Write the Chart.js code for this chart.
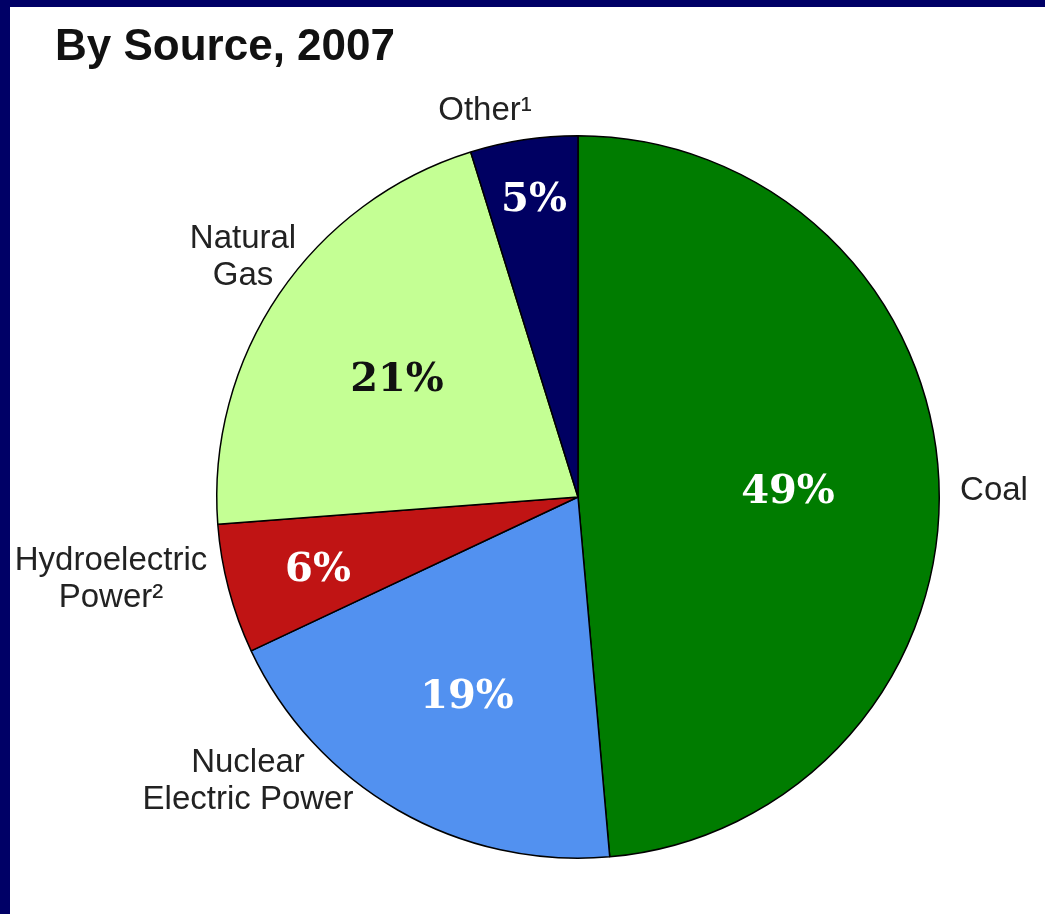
<!DOCTYPE html>
<html>
<head>
<meta charset="utf-8">
<script src="https://cdn.jsdelivr.net/npm/chart.js@4"></script>
<style>
  html, body { margin: 0; padding: 0; background: #000066; width: 1045px; height: 914px; overflow: hidden; }
  #panel { position: absolute; left: 10px; top: 7px; width: 1035px; height: 907px; background: #fff; }
  #chart { display: block; }
</style>
</head>
<body>
<div id="panel"><canvas id="chart" width="1035" height="907"></canvas></div>
<script>
// data (shares of the pie, starting at 12 o'clock, clockwise)
const categories = ['Coal', 'Nuclear Electric Power', 'Hydroelectric Power²', 'Natural Gas', 'Other¹']
const shares = [48.6, 19.4, 5.8, 21.4, 4.8]
const pctLabels = ['49%', '19%', '6%', '21%', '5%']
const sliceColors = ['#007c00', '#5291f0', '#c01414', '#c4ff94', '#000062']
const pctColors = ['#ffffff', '#ffffff', '#ffffff', '#111111', '#ffffff']

// outside labels: lines and where they sit (canvas coords)
const outerLabels = [
    { lines: ['Coal'], x: 984, y: 484 },
    { lines: ['Nuclear', 'Electric Power'], x: 238, y: 756 },
    { lines: ['Hydroelectric', 'Power²'], x: 101, y: 554 },
    { lines: ['Natural', 'Gas'], x: 233, y: 232 },
    { lines: ['Other¹'], x: 475, y: 104 },
]
const pctPos = [
    [778, 486], [457, 691], [308, 564], [387, 374], [524, 194]
]

// draws title, percentages and outside names
const textPlugin = {
    id: 'textPlugin',
    afterDraw(chart) {
        const ctx = chart.ctx
        ctx.save()
        ctx.fillStyle = '#111'
        ctx.font = 'bold 44px "Liberation Sans", Arial, sans-serif'
        ctx.textAlign = 'left'
        ctx.textBaseline = 'alphabetic'
        ctx.fillText('By Source, 2007', 45, 53)

        ctx.textAlign = 'center'
        ctx.textBaseline = 'middle'
        ctx.font = 'bold 40px "DejaVu Serif", Georgia, serif'
        pctLabels.forEach((t, i) => {
            ctx.fillStyle = pctColors[i]
            ctx.fillText(t, pctPos[i][0], pctPos[i][1])
        })

        ctx.font = '33px "Liberation Sans", Arial, sans-serif'
        ctx.fillStyle = '#222'
        outerLabels.forEach((l) => {
            l.lines.forEach((line, j) => {
                ctx.fillText(line, l.x, l.y + j * 37)
            })
        })
        ctx.restore()
    }
}

const ctx = document.getElementById('chart').getContext('2d')
new Chart(ctx, {
    type: 'pie',
    data: {
        labels: categories,
        datasets: [{
            data: shares,
            backgroundColor: sliceColors,
            borderColor: '#000',
            borderWidth: 1.5,
        }]
    },
    options: {
        responsive: false,
        animation: false,
        layout: { padding: { left: 206, right: 105, top: 128, bottom: 55 } },
        plugins: {
            legend: { display: false },
            tooltip: { enabled: false },
        }
    },
    plugins: [textPlugin]
})
</script>
</body>
</html>
